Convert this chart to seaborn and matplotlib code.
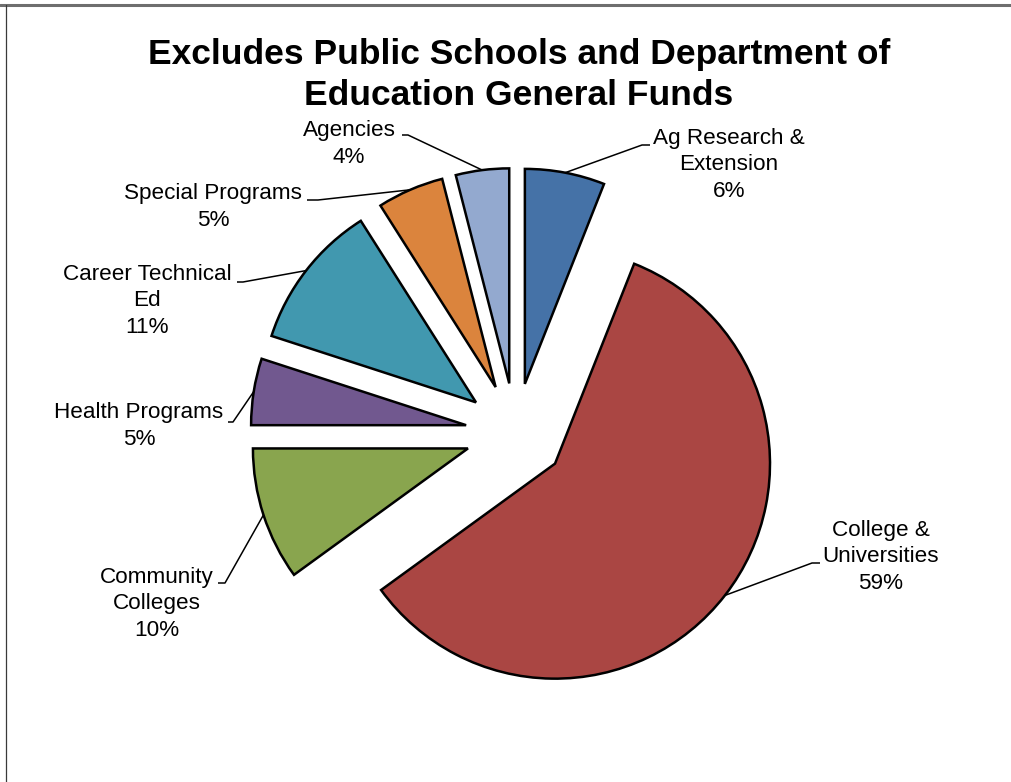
import numpy as np
import matplotlib
matplotlib.use("Agg")
import matplotlib.pyplot as plt
from matplotlib.lines import Line2D
import seaborn as sns

# Budget shares (percent), clockwise from 12 o'clock
categories = [
    "Ag Research &\nExtension",
    "College &\nUniversities",
    "Community\nColleges",
    "Health Programs",
    "Career Technical\nEd",
    "Special Programs",
    "Agencies",
]
shares = [6, 59, 10, 5, 11, 5, 4]
slice_colors = ["#4572A7", "#AA4643", "#89A54E", "#71588F", "#4198AF", "#DB843D", "#93A9CF"]
title = "Excludes Public Schools and Department of\nEducation General Funds"

sns.set_theme(style="white")
plt.rcParams["font.family"] = ["Liberation Sans", "DejaVu Sans"]

W, H = 1011, 782
fig = plt.figure(figsize=(W / 100, H / 100), dpi=100)
ax = fig.add_axes([0, 0, 1, 1])


def px(x, y):
    """Pixel position (origin top-left) to data coordinates."""
    return x, H - y


cx, cy = px(515.5, 433)
radius = 215
explode = [50] * len(shares)

wedges, _ = ax.pie(
    shares,
    colors=sns.color_palette(slice_colors),
    radius=radius,
    center=(cx, cy),
    explode=explode,
    startangle=90,
    counterclock=False,
    wedgeprops=dict(edgecolor="black", linewidth=1.8),
    frame=True,
)
ax.set_xlim(0, W)
ax.set_ylim(0, H)
ax.set_aspect("equal")
ax.axis("off")

# label block centres and leader elbows (pixel coordinates)
label_pos = [(729, 165), (881, 557), (157, 604), (139, 426), (147, 301), (213, 207), (349, 144)]
elbows = [((642, 145), (650, 145)), ((812, 563), (820, 563)), ((225, 583), (218, 583)),
          ((233, 422), (228, 422)), ((243, 282), (237, 282)), ((318, 200), (307, 200)),
          ((408, 135), (402, 135))]

for w, name, val, (lx, ly), (elb, end) in zip(wedges, categories, shares, label_pos, elbows):
    mid = np.deg2rad((w.theta1 + w.theta2) / 2)
    ax_x = w.center[0] + w.r * np.cos(mid)
    ax_y = w.center[1] + w.r * np.sin(mid)
    ex, ey = px(*elb)
    tx, ty = px(*end)
    ax.plot([ax_x, ex, tx], [ax_y, ey, ty], color="black", linewidth=1.1, solid_capstyle="butt")
    ax.text(*px(lx, ly), f"{name}\n{val}%", ha="center", va="center",
            fontsize=16.2, linespacing=1.32, multialignment="center", color="black")

fig.text(519 / W, 1 - 75 / H, title, ha="center", va="center",
         fontsize=25.5, fontweight="bold", linespacing=1.34, color="black")

# chart frame (top and left edges)
fig.add_artist(Line2D([0, 1], [1 - 5 / H, 1 - 5 / H], transform=fig.transFigure,
                      color="#6e6e6e", linewidth=2.2))
fig.add_artist(Line2D([5.5 / W, 5.5 / W], [0, 1 - 5 / H], transform=fig.transFigure,
                      color="#3a3a3a", linewidth=0.9))

fig.savefig("out.png", dpi=100, facecolor="white")
